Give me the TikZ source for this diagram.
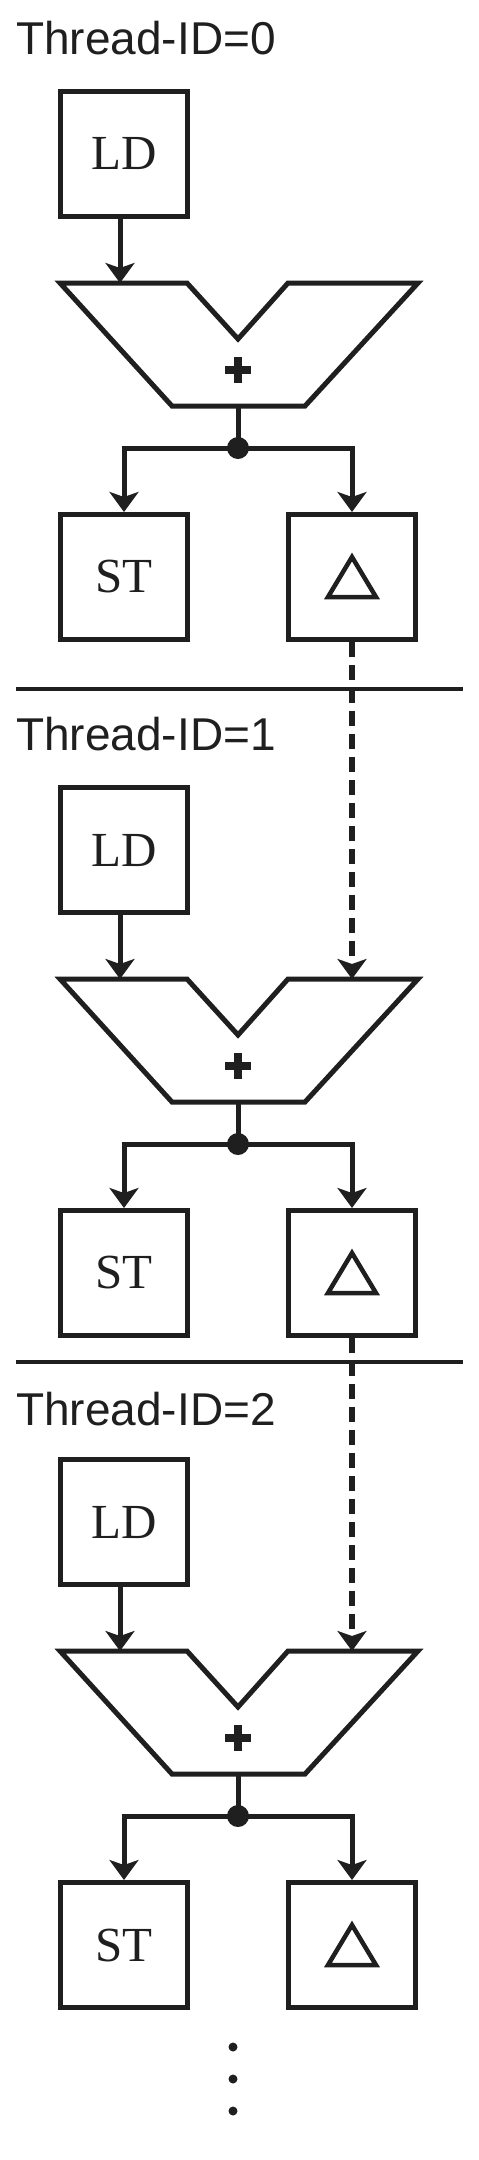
\documentclass[tikz,border=0pt]{standalone}
\usepackage{fontspec}
\setmainfont{Liberation Serif}
\newfontfamily\titlefont{Liberation Sans}
\usetikzlibrary{arrows.meta}
\definecolor{ink}{gray}{0.12}
\begin{document}
\begin{tikzpicture}[x=1pt,y=-1pt,
  box/.style={draw=ink, line width=5pt, minimum width=127pt, minimum height=125pt, inner sep=0pt, font=\fontsize{49}{52}\selectfont, text=ink},
  arr/.style={draw=ink, line width=5pt, line join=miter, -{Stealth[length=20pt,width=29pt,inset=5pt]}},
  darr/.style={arr, line width=6pt, dash pattern=on 15pt off 8pt},
  trap/.style={draw=ink, line width=5pt, line join=miter},
  title/.style={anchor=base west, inner sep=0pt, font=\titlefont\fontsize{46}{50}\selectfont, text=ink},
  sep/.style={draw=ink, line width=3.5pt},
  junc/.style={circle, fill=ink, minimum size=22pt, inner sep=0pt},
  dotmark/.style={circle, fill=ink, minimum size=9pt, inner sep=0pt},
  stem/.style={draw=ink, line width=5pt},
  plus/.style={draw=ink, line width=8pt},
  tri/.style={draw=ink, line width=4.5pt, line join=miter}
  ]
\path[use as bounding box] (0,0) rectangle (479,2160);

\foreach \i/\dy/\ty in {0/0/0, 1/696/696, 2/1368/1371} {
  \node[title] (title\i) at (16, 54+\ty) {Thread-ID=\i};
  \node[box] (ld\i) at (124, 154+\dy) {LD};
  \coordinate (ina\i) at (120, 283+\dy);
  \coordinate (inb\i) at (352, 283+\dy);
  \coordinate (out\i) at (238, 406+\dy);
  \draw[trap] (60,283+\dy) -- (187,283+\dy) -- (238,339+\dy) -- (288,283+\dy)
     -- (418,283+\dy) -- (305,406+\dy) -- (172,406+\dy) -- cycle;
  \draw[plus] (225, 370+\dy) -- (251, 370+\dy) (238, 357+\dy) -- (238, 383+\dy);
  \draw[arr] (ld\i.south -| ina\i) -- (ina\i);
  \node[junc] (j\i) at (238, 448+\dy) {};
  \draw[stem] (out\i) -- (j\i.center);
  \node[box] (st\i) at (124, 577+\dy) {ST};
  \node[box] (dl\i) at (352, 577+\dy) {};
  \draw[tri] ([shift={(-24,20)}]dl\i.center) -- ([shift={(24,20)}]dl\i.center)
     -- ([shift={(0,-20)}]dl\i.center) -- cycle;
  \draw[arr] (j\i.center) -| (st\i.north);
  \draw[arr] (j\i.center) -| (dl\i.north);
}

\draw[darr] (dl0.south) -- (inb1);
\draw[darr] (dl1.south) -- (inb2);

\draw[sep] (16,689) -- (463,689);
\draw[sep] (16,1362) -- (463,1362);

\node[dotmark] (d1) at (233,2047) {};
\node[dotmark] (d2) at (233,2079) {};
\node[dotmark] (d3) at (233,2111) {};
\end{tikzpicture}
\end{document}
